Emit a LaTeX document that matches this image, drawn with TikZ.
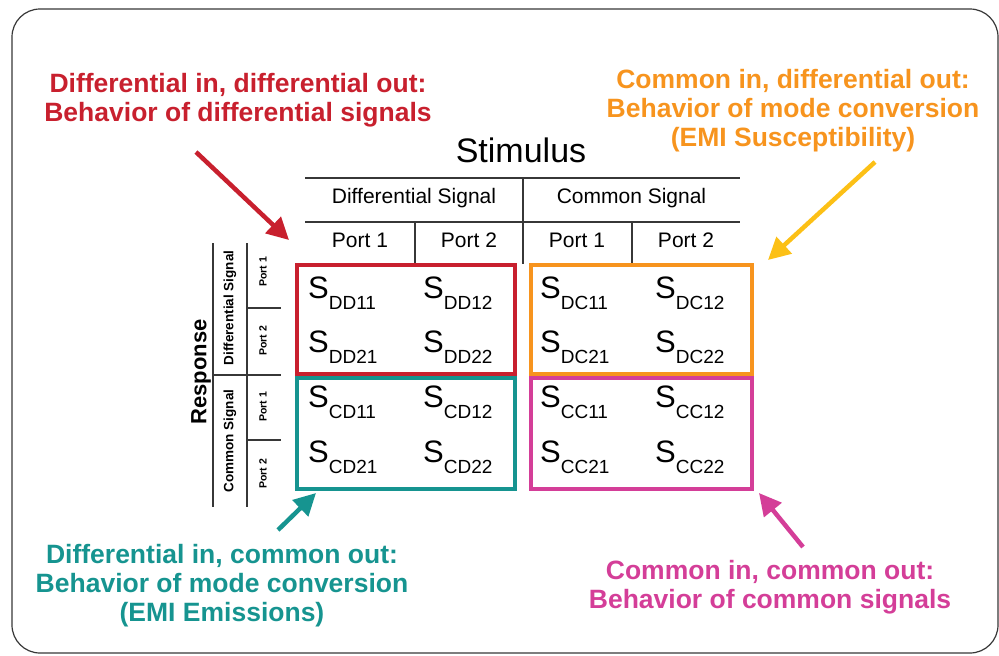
\documentclass[tikz,border=0pt]{standalone}
\usepackage{fontspec}
\setmainfont{Liberation Sans}
\usetikzlibrary{arrows.meta}
\definecolor{cred}{RGB}{200,32,46}
\definecolor{corange}{RGB}{247,148,30}
\definecolor{cyellow}{RGB}{252,192,22}
\definecolor{cteal}{RGB}{22,148,144}
\definecolor{cmag}{RGB}{212,62,152}
\definecolor{lgray}{RGB}{55,55,55}
\newcommand\Smat[1]{S\raisebox{-11pt}{\fontsize{19}{19}\selectfont #1}}
\begin{document}
\begin{tikzpicture}[x=1pt,y=-1pt,
  lbl/.style={align=center, anchor=base, inner sep=0pt, font=\fontsize{26.5}{29}\selectfont\bfseries},
  hdr/.style={anchor=base, inner sep=0pt, font=\fontsize{21}{21}\selectfont},
  rotlbl/.style={rotate=90, inner sep=0pt, font=\fontsize{13.5}{13.5}\selectfont\bfseries},
  portlbl/.style={rotate=90, inner sep=0pt, font=\fontsize{10.5}{10.5}\selectfont\bfseries},
  gridline/.style={draw=lgray, line width=1.3pt},
  mbox/.style={line width=4pt},
  arr/.style={line width=4.5pt, -{Triangle[length=22pt,width=22pt]}},
  smat/.style={anchor=base west, inner sep=0pt, font=\fontsize{31}{31}\selectfont}
]
\useasboundingbox (0,0) rectangle (999,656);
\draw[draw=lgray, line width=1.2pt, rounded corners=28pt] (12,9) rectangle (998,653);

% top labels (anchor base = last line's baseline)
\node[lbl, text=cred] (tl) at (238,121) {Differential in, differential out:\\Behavior of differential signals};
\node[lbl, text=corange] (tr) at (793,146) {Common in, differential out:\\Behavior of mode conversion\\(EMI Susceptibility)};
% bottom labels
\node[lbl, text=cteal] (bl) at (222,621) {Differential in, common out:\\Behavior of mode conversion\\(EMI Emissions)};
\node[lbl, text=cmag] (br) at (770,608) {Common in, common out:\\Behavior of common signals};

% Stimulus header
\node[anchor=base, inner sep=0pt, font=\fontsize{34}{34}\selectfont] (stim) at (521,162) {Stimulus};
\draw[gridline] (305,178) -- (740,178);
\draw[gridline] (305,222) -- (740,222);
\draw[gridline] (523,178) -- (523,264);
\draw[gridline] (415,222) -- (415,264);
\draw[gridline] (632,222) -- (632,264);
\node[hdr] (hds) at (414,203) {Differential Signal};
\node[hdr] (hcs) at (631.5,203) {Common Signal};
\node[hdr] (hp1) at (360,247) {Port 1};
\node[hdr] (hp2) at (469,247) {Port 2};
\node[hdr] (hp3) at (577,247) {Port 1};
\node[hdr] (hp4) at (686,247) {Port 2};

% Response header
\node[rotate=90, inner sep=0pt, font=\fontsize{22}{22}\selectfont\bfseries] (resp) at (201,372) {Response};
\draw[gridline] (213,243) -- (213,507);
\draw[gridline] (247,243) -- (247,507);
\draw[gridline] (213,375) -- (281,375);
\draw[gridline] (247,308) -- (281,308);
\draw[gridline] (247,440) -- (281,440);
\node[rotlbl] (rds) at (230,308) {Differential Signal};
\node[rotlbl] (rcs) at (230,441) {Common Signal};
\node[portlbl] (rp1) at (263,272) {Port 1};
\node[portlbl] (rp2) at (263,341) {Port 2};
\node[portlbl] (rp3) at (263,407) {Port 1};
\node[portlbl] (rp4) at (263,474) {Port 2};

% boxes
\draw[mbox, draw=cred] (297,265) rectangle (515,374);
\draw[mbox, draw=cteal] (297,378) rectangle (515,489);
\draw[mbox, draw=corange] (531,265) rectangle (752,374);
\draw[mbox, draw=cmag] (531,378) rectangle (752,489);

% matrix entries
\node[smat] (dd11) at (308,298) {\Smat{DD11}};
\node[smat] (dd12) at (423,298) {\Smat{DD12}};
\node[smat] (dd21) at (308,352) {\Smat{DD21}};
\node[smat] (dd22) at (423,352) {\Smat{DD22}};
\node[smat] (dc11) at (540,298) {\Smat{DC11}};
\node[smat] (dc12) at (655,298) {\Smat{DC12}};
\node[smat] (dc21) at (540,352) {\Smat{DC21}};
\node[smat] (dc22) at (655,352) {\Smat{DC22}};
\node[smat] (cd11) at (308,407) {\Smat{CD11}};
\node[smat] (cd12) at (423,407) {\Smat{CD12}};
\node[smat] (cd21) at (308,462) {\Smat{CD21}};
\node[smat] (cd22) at (423,462) {\Smat{CD22}};
\node[smat] (cc11) at (540,407) {\Smat{CC11}};
\node[smat] (cc12) at (655,407) {\Smat{CC12}};
\node[smat] (cc21) at (540,462) {\Smat{CC21}};
\node[smat] (cc22) at (655,462) {\Smat{CC22}};

% arrows
\coordinate (a1s) at (196,152); \coordinate (a1e) at (289,240);
\coordinate (a2s) at (875,162); \coordinate (a2e) at (768,260);
\coordinate (a3s) at (278,530); \coordinate (a3e) at (316,493);
\coordinate (a4s) at (803,547); \coordinate (a4e) at (759,493);
\draw[arr, draw=cred, fill=cred] (a1s) -- (a1e);
\draw[arr, draw=cyellow, fill=cyellow] (a2s) -- (a2e);
\draw[arr, draw=cteal, fill=cteal] (a3s) -- (a3e);
\draw[arr, draw=cmag, fill=cmag] (a4s) -- (a4e);
\end{tikzpicture}
\end{document}
